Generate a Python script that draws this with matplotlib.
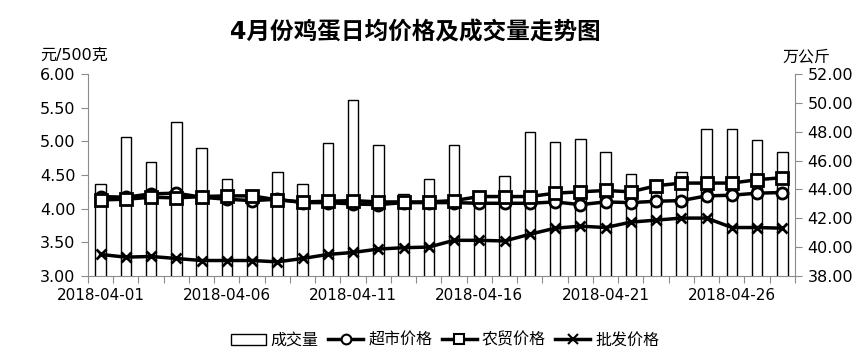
import matplotlib
matplotlib.use('Agg')
import matplotlib.pyplot as plt
from matplotlib.patches import Patch
from matplotlib.lines import Line2D
import numpy as np

plt.rcParams['font.family'] = ['DejaVu Sans', 'Noto Sans CJK SC']

dates = ['2018-04-%02d' % d for d in range(1, 29)]

# 成交量 (万公斤)
volume = [44.35, 47.6, 45.9, 48.7, 46.9, 44.7, 43.5, 45.2, 44.35, 47.2,
          50.2, 47.05, 43.7, 44.7, 47.05, 43.4, 44.9, 47.95, 47.3, 47.5,
          46.6, 45.1, 43.8, 45.2, 48.2, 48.2, 47.4, 46.6]
# 超市价格 (元/500克)
market = [4.18, 4.17, 4.22, 4.23, 4.17, 4.14, 4.12, 4.14, 4.09, 4.09,
          4.07, 4.06, 4.09, 4.09, 4.09, 4.08, 4.08, 4.08, 4.10, 4.06,
          4.10, 4.09, 4.11, 4.12, 4.19, 4.20, 4.23, 4.24]
# 农贸价格
farm = [4.13, 4.14, 4.17, 4.16, 4.18, 4.19, 4.19, 4.13, 4.10, 4.11,
        4.12, 4.10, 4.10, 4.10, 4.12, 4.18, 4.18, 4.18, 4.23, 4.25,
        4.27, 4.25, 4.34, 4.38, 4.38, 4.38, 4.43, 4.46]
# 批发价格
wholesale = [3.32, 3.28, 3.29, 3.26, 3.23, 3.23, 3.23, 3.21, 3.26, 3.32,
             3.35, 3.40, 3.42, 3.43, 3.53, 3.53, 3.52, 3.62, 3.71, 3.74,
             3.72, 3.80, 3.83, 3.86, 3.86, 3.72, 3.72, 3.71]

x = np.arange(len(dates))
gray = '#8c8c8c'

fig = plt.figure(figsize=(8.66, 3.57), dpi=100)
ax = fig.add_axes([0.1016, 0.2269, 0.8164, 0.5658])
ax2 = ax.twinx()

ax2.bar(x, volume, width=0.42, color='white', edgecolor='black', linewidth=1.0)
ax2.set_ylim(38, 52)
ax2.set_yticks(np.arange(38, 52.1, 2))
ax2.set_yticklabels(['%.2f' % v for v in np.arange(38, 52.1, 2)])

ax.set_zorder(ax2.get_zorder() + 1)
ax.patch.set_visible(False)

ax.plot(x, market, '-o', color='black', lw=2.5, ms=8, mfc='white', mew=2, label='超市价格')
ax.plot(x, farm, '-s', color='black', lw=2.5, ms=8.5, mfc='white', mew=2, label='农贸价格')
ax.plot(x, wholesale, '-x', color='black', lw=2.5, ms=7, mew=2, label='批发价格')

ax.set_ylim(3, 6)
ax.set_yticks(np.arange(3, 6.01, 0.5))
ax.set_yticklabels(['%.2f' % v for v in np.arange(3, 6.01, 0.5)])
ax.set_xlim(-0.5, len(dates) - 0.5)

# ticks at category boundaries, labels every 5 days
ax.set_xticks(np.arange(-0.5, len(dates), 1))
ax.set_xticklabels([])
ax.set_xticks(x[::5], minor=True)
ax.set_xticklabels([dates[i] for i in x[::5]], minor=True)
ax.tick_params(axis='x', which='minor', length=0, pad=9, labelsize=11)
ax.tick_params(axis='x', which='major', length=5, color=gray, direction='out')
ax.tick_params(axis='y', length=5, color=gray, labelsize=11.5, pad=4)
ax2.tick_params(axis='y', length=5, color=gray, labelsize=11.5, pad=4)

for a in (ax, ax2):
    a.spines['top'].set_visible(False)
    for s in ('left', 'right', 'bottom'):
        a.spines[s].set_color(gray)
ax.spines['right'].set_visible(False)
ax2.spines['left'].set_visible(False)
ax2.spines['bottom'].set_visible(False)

fig.text(415 / 866, 1 - 32 / 357, '4月份鸡蛋日均价格及成交量走势图', ha='center', va='center',
         fontsize=17, fontweight='bold', family=['DejaVu Sans', 'Noto Sans CJK SC'])
fig.text(40 / 866, 1 - 55 / 357, '元/500克', ha='left', va='center', fontsize=11.5)
fig.text(830 / 866, 1 - 57 / 357, '万公斤', ha='right', va='center', fontsize=11.5)

handles = [Patch(facecolor='white', edgecolor='black', linewidth=1.0, label='成交量'),
           Line2D([], [], color='black', lw=2.5, marker='o', ms=7, mfc='white', mew=1.5, label='超市价格'),
           Line2D([], [], color='black', lw=2.5, marker='s', ms=7, mfc='white', mew=1.5, label='农贸价格'),
           Line2D([], [], color='black', lw=2.5, marker='x', ms=7, mew=1.5, label='批发价格')]
fig.legend(handles=handles, loc='center', bbox_to_anchor=(445 / 866, 1 - 340 / 357), ncol=4,
           frameon=False, fontsize=11.5, handlelength=2.2, handletextpad=0.3, columnspacing=0.6)

fig.savefig('out.png', dpi=100)
